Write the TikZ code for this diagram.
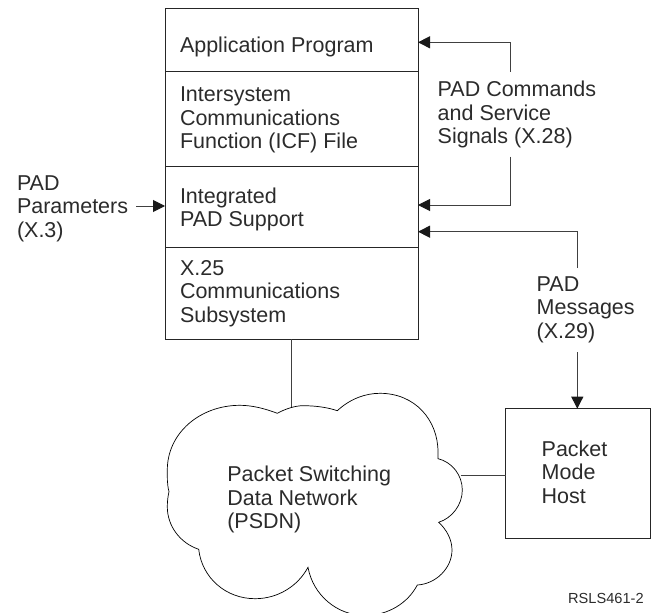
\documentclass[tikz,border=0pt]{standalone}
\usepackage{fontspec}
\setmainfont{Liberation Sans}
\usetikzlibrary{arrows.meta}
\definecolor{ink}{gray}{0.17}
\tikzset{
  lbl/.style={anchor=north west,inner sep=0pt,outer sep=0pt,align=left,text=ink,font=\fontsize{21.5}{23.6}\selectfont,execute at begin node=\rule{0pt}{18pt}},
  panel/.style={draw=black!85,line width=1pt,minimum width=253pt,inner sep=0pt,outer sep=0pt,anchor=north west},
  wire/.style={draw=black!75,line width=1pt},
  arrowwire/.style={wire,-{Triangle[length=12pt,width=12pt,black!90]}},
}
\begin{document}
\begin{tikzpicture}[x=1pt,y=-1pt]
\useasboundingbox (0,0) rectangle (654,613);
\node[panel,minimum height=62.3pt] (app) at (165,8.7) {};
\node[panel,minimum height=95pt] (icf) at (165,71) {};
\node[panel,minimum height=81pt] (pad) at (165,166) {};
\node[panel,minimum height=92.3pt] (x25) at (165,247) {};
\node[lbl] at (180,34) (t1) {Application Program};
\node[lbl] at (180,87) (t2) {Intersystem\\Communications\\Function (ICF) File};
\node[lbl] at (180,187.5) (t3) {Integrated\\PAD Support};
\node[lbl] at (180,260) (t4) {X.25\\Communications\\Subsystem};
\node[lbl] at (17,175.5) (t5) {PAD\\Parameters\\(X.3)};
\node[lbl] at (437.7,81) (t6) {PAD Commands\\and Service\\Signals (X.28)};
\node[lbl] at (536.7,276.5) (t7) {PAD\\Messages\\(X.29)};
\node[lbl] at (227.3,466) (t8) {Packet Switching\\Data Network\\(PSDN)};
\node[draw=black!85,line width=1pt,minimum width=144.6pt,minimum height=130pt,inner sep=0pt,outer sep=0pt,anchor=north west] (host) at (505.7,408.7) {};
\node[lbl] at (541.7,440.7) (t9) {Packet\\Mode\\Host};
\node[anchor=base west,inner sep=0pt,text=ink,font=\fontsize{14.6}{16}\selectfont] at (568,603) (t10) {RSLS461-2};
\coordinate (c1) at (510.7,71.7);
\coordinate (c1a) at (510.7,42.3);
\coordinate (c2) at (510.7,156.7);
\coordinate (c2a) at (510.7,205);
\coordinate (c3) at (577.3,268);
\coordinate (c3a) at (577.3,231.7);
\coordinate (c5) at (577.3,352);
\coordinate (c6) at (136,206);
\coordinate (cloudtop) at (291.7,407);
\coordinate (cloudright) at (460.5,475.7);
\draw[arrowwire] (c1) -- (c1a) -- (app.east |- c1a);
\draw[arrowwire] (c2) -- (c2a) -- (pad.east |- c2a);
\draw[arrowwire] (c3) -- (c3a) -- (pad.east |- c3a);
\draw[arrowwire] (c5) -- (host.north -| c5);
\draw[arrowwire] (c6) -- (pad.west |- c6);
\draw[wire] (x25.south -| cloudtop) -- (cloudtop);
\draw[wire] (cloudright) -- (host.west |- cloudright);
\begin{scope}
\clip (0,0) rectangle (654,613);
\draw[line width=0.7pt,draw=black] (169,491.7)
 .. controls (167,484) and (167.3,477) .. (167.3,470)
 .. controls (167.3,433) and (200,405.3) .. (240,405.3)
 .. controls (253,405.3) and (266,409) .. (277.3,413.3)
 .. controls (285,409) and (295,405.7) .. (303,405.7)
 .. controls (316,405.7) and (328,407.5) .. (337.3,410.7)
 .. controls (350,399) and (365,393.3) .. (380,393.3)
 .. controls (415,393.3) and (438,420) .. (438,452)
 -- (438,458.7)
 .. controls (452,462) and (462.3,475) .. (462.3,490)
 .. controls (462.3,505) and (452,518) .. (438.7,522.3)
 .. controls (447,530) and (452,540) .. (452,550)
 .. controls (452,568) and (436,584) .. (417.3,585)
 .. controls (408,603) and (388,615.5) .. (365,615.5)
 .. controls (337,615.5) and (313,595) .. (308,567.3)
 .. controls (298,586) and (278,598.7) .. (255,598.7)
 .. controls (226,598.7) and (202,578) .. (198.7,549.3)
 .. controls (180,543) and (167.3,526) .. (167.3,506.7)
 .. controls (167.3,501) and (168,496) .. (169,491.7) -- cycle;
\end{scope}
\end{tikzpicture}
\end{document}
